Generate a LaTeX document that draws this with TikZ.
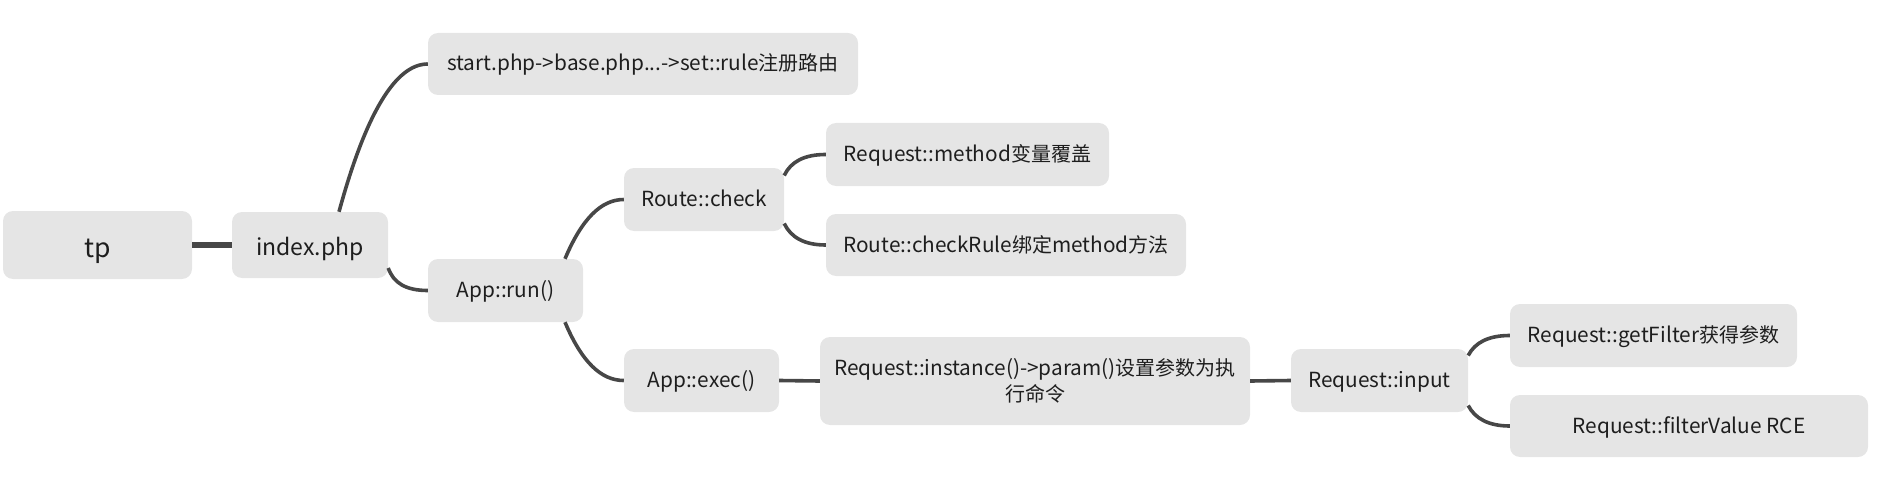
\documentclass[tikz,border=0pt]{standalone}
\usepackage{fontspec}
\setmainfont{Noto Sans CJK SC}
\usetikzlibrary{calc}
\definecolor{boxfill}{HTML}{E5E5E5}
\definecolor{conncol}{HTML}{474747}
\definecolor{txtcol}{HTML}{1E1E1E}
\newcommand\zh[1]{{\fontsize{20pt}{26pt}\selectfont #1}}
\begin{document}
\begin{tikzpicture}[x=1pt,y=-1pt,
  box/.style={fill=boxfill, rounded corners=10pt, inner sep=0pt, align=center,
    text=txtcol, font=\fontsize{20.8pt}{26pt}\selectfont,
    text height=16pt, text depth=2pt},
  conn/.style={draw=conncol, line width=3.6pt},
  thickconn/.style={draw=conncol, line width=6pt}]
\useasboundingbox (0,0) rectangle (1900,492);

\node[box, text height=24pt, text depth=0pt, minimum width=189pt, minimum height=68pt, font=\fontsize{26.5pt}{32pt}\selectfont] (tp) at (97.5,245) {tp};
\node[box, text height=20pt, text depth=0pt, minimum width=156pt, minimum height=66pt, font=\fontsize{23pt}{30pt}\selectfont] (index) at (310,245) {index.php};
\node[box, minimum width=430pt, minimum height=62pt] (start) at (643,64) {start.php->base.php...->set::rule\zh{注册路由}};
\node[box, minimum width=155pt, minimum height=63pt] (apprun) at (505.5,290.5) {App::run()};
\node[box, minimum width=160pt, minimum height=63pt] (route) at (704,199.5) {Route::check};
\node[box, minimum width=155pt, minimum height=63pt] (appexec) at (701.5,380.5) {App::exec()};
\node[box, minimum width=283pt, minimum height=63pt] (method) at (967.5,154.5) {Request::method\zh{变量覆盖}};
\node[box, minimum width=360pt, minimum height=62pt] (checkrule) at (1006,245) {Route::checkRule\zh{绑定}method\zh{方法}};
\node[box, text height=42pt, text depth=2pt, minimum width=430pt, minimum height=88pt] (instance) at (1035,381) {Request::instance()->param()\zh{设置参数为执}\\\zh{行命令}};
\node[box, minimum width=177pt, minimum height=63pt] (input) at (1379.5,380.5) {Request::input};
\node[box, minimum width=287pt, minimum height=63pt] (getfilter) at (1653.5,335.5) {Request::getFilter\zh{获得参数}};
\node[box, minimum width=358pt, minimum height=62pt] (filtervalue) at (1689,426) {Request::filterValue RCE};

\draw[thickconn] (tp.east) -- (index.west);
\draw[conn] ($(index.north)+(29,0)$) .. controls +(27,-99) and +(-32,0) .. (start.west);
\draw[conn] ($(index.east)+(0,23)$) .. controls +(5.3,15) and +(-22,0) .. (apprun.west);
\draw[conn] ($(apprun.north)+(59.5,0)$) .. controls +(16.7,-39.7) and +(-22.7,0) .. (route.west);
\draw[conn] ($(apprun.south)+(59.5,0)$) .. controls +(16.7,39.7) and +(-22.7,0) .. (appexec.west);
\draw[conn] ($(route.east)+(0,-24)$) .. controls +(6.7,-14) and +(-21.3,0) .. (method.west);
\draw[conn] ($(route.east)+(0,24)$) .. controls +(6.7,14) and +(-21.3,0) .. (checkrule.west);
\draw[conn] (appexec.east) -- (instance.west);
\draw[conn] (instance.east) -- (input.west);
\draw[conn] ($(input.east)+(0,-25)$) .. controls +(6.7,-13) and +(-21.3,0) .. (getfilter.west);
\draw[conn] ($(input.east)+(0,25)$) .. controls +(6.7,13) and +(-21.3,0) .. (filtervalue.west);
\end{tikzpicture}
\end{document}
